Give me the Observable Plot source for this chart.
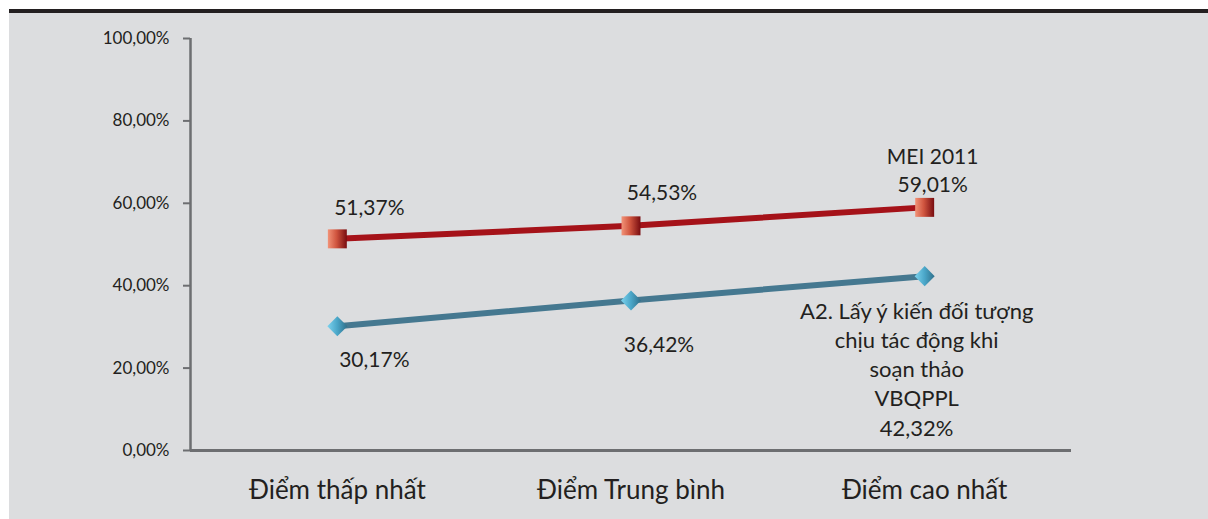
<!DOCTYPE html>
<html>
<head>
<meta charset="utf-8">
<script src="https://cdn.jsdelivr.net/npm/d3@7"></script>
<script src="https://cdn.jsdelivr.net/npm/@observablehq/plot@0.6"></script>
<style>
  html, body { margin: 0; padding: 0; background: #ffffff; width: 1208px; height: 519px; overflow: hidden; }
  #panel { position: absolute; left: 9px; top: 9px; right: 0; bottom: 0; background: #dcdddf; border-top: 4px solid #231f20; }
  #chart { position: absolute; left: 0; top: 0; }
</style>
</head>
<body>
<div id="panel"></div>
<div id="chart"></div>
<script>
const categories = ["Điểm thấp nhất", "Điểm Trung bình", "Điểm cao nhất"];
const meiValues = [51.37, 54.53, 59.01];
const a2Values = [30.17, 36.42, 42.32];
const meiName = "MEI 2011";
const a2Name = "A2. Lấy ý kiến đối tượng\nchịu tác động khi\nsoạn thảo\nVBQPPL";
const yTicks = [0, 20, 40, 60, 80, 100];

const fmt = v => v.toFixed(2).replace(".", ",") + "%";
const mei = categories.map((c, i) => ({i, cat: c, v: meiValues[i]}));
const a2 = categories.map((c, i) => ({i, cat: c, v: a2Values[i]}));

const diamond = {
  draw(ctx, size) {
    const r = Math.sqrt(size / 2);
    ctx.moveTo(0, -r); ctx.lineTo(r, 0); ctx.lineTo(0, r); ctx.lineTo(-r, 0); ctx.closePath();
  }
};

const font = "Lato, 'Open Sans', sans-serif";
const ink = "#231f20";
const lab = (data, idx, text, opts) => Plot.text(data.filter(d => d.i === idx), {
  x: "i", y: "v", text, fontSize: 21, fill: ink, lineHeight: 1.32, ...opts
});

const plot = Plot.plot({
  width: 1208,
  height: 519,
  marginLeft: 190,
  marginRight: 137,
  marginTop: 38,
  marginBottom: 69,
  style: { background: "transparent", fontFamily: font, color: ink },
  x: { domain: [-0.5, categories.length - 0.5] },
  y: { domain: [0, 100] },
  marks: [
    Plot.axisY({ ticks: yTicks, tickFormat: fmt, tickSize: 7, tickPadding: 14, fontSize: 17, stroke: "#6d6e71", strokeWidth: 2, label: null }),
    Plot.axisX({ ticks: categories.map((c, i) => i), tickFormat: i => categories[i], tickSize: 0, tickPadding: 30, fontSize: 26, label: null }),
    Plot.ruleX([-0.5], { stroke: "#6d6e71", strokeWidth: 2.5 }),
    Plot.ruleY([0], { stroke: "#6d6e71", strokeWidth: 3 }),
    Plot.line(mei, { x: "i", y: "v", stroke: "#a51219", strokeWidth: 6 }),
    Plot.line(a2, { x: "i", y: "v", stroke: "#457890", strokeWidth: 6 }),
    Plot.dot(mei, { x: "i", y: "v", symbol: "square", r: 10.7, fill: "url(#gradRed)", stroke: "none" }),
    Plot.dot(a2, { x: "i", y: "v", symbol: diamond, r: 8, fill: "url(#gradBlue)", stroke: "none" }),
    lab(mei, 0, d => fmt(d.v), { dx: 32, dy: -33 }),
    lab(mei, 1, d => fmt(d.v), { dx: 31, dy: -35 }),
    lab(mei, 2, d => meiName + "\n" + fmt(d.v), { dx: 8, dy: -38, lineAnchor: "middle" }),
    lab(a2, 0, d => fmt(d.v), { dx: 37, dy: 32 }),
    lab(a2, 1, d => fmt(d.v), { dx: 28, dy: 43 }),
    lab(a2, 2, d => a2Name + "\n" + fmt(d.v), { dx: -8, dy: 92, lineAnchor: "middle", fontSize: 22 })
  ]
});

const defs = d3.select(plot).insert("defs", ":first-child");
const g1 = defs.append("linearGradient").attr("id", "gradRed").attr("x1", "0").attr("x2", "1").attr("y1", "0").attr("y2", "0");
g1.append("stop").attr("offset", "0").attr("stop-color", "#f29378");
g1.append("stop").attr("offset", "0.45").attr("stop-color", "#d0553f");
g1.append("stop").attr("offset", "1").attr("stop-color", "#780c10");
const g2 = defs.append("linearGradient").attr("id", "gradBlue").attr("x1", "0").attr("x2", "1").attr("y1", "0").attr("y2", "0");
g2.append("stop").attr("offset", "0").attr("stop-color", "#7dd3ef");
g2.append("stop").attr("offset", "0.5").attr("stop-color", "#4aa6c8");
g2.append("stop").attr("offset", "1").attr("stop-color", "#2f6f8a");

document.getElementById("chart").appendChild(plot);
</script>
</body>
</html>
